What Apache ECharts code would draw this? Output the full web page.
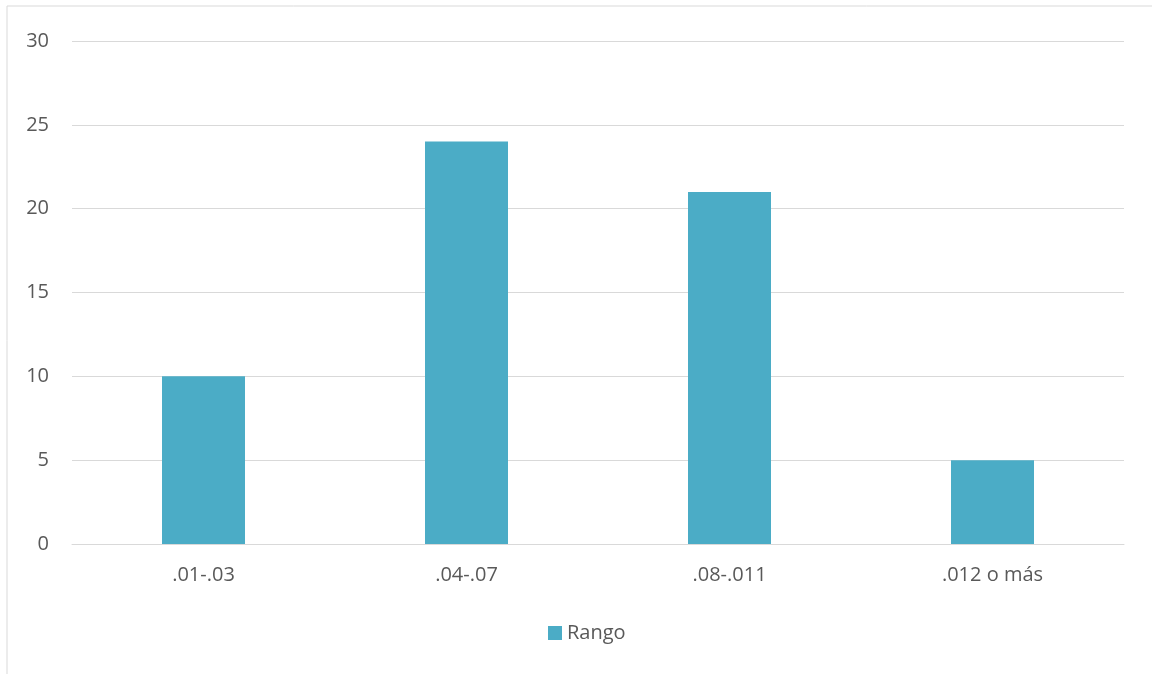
<!DOCTYPE html>
<html>
<head>
<meta charset="utf-8">
<script src="https://cdn.jsdelivr.net/npm/echarts@6/dist/echarts.min.js"></script>
<style>
  html, body { margin: 0; padding: 0; background: #fff; }
  #chart { width: 1152px; height: 674px; }
</style>
</head>
<body>
<div id="chart"></div>
<script>
// Frequency of each range
const categories = ['.01-.03', '.04-.07', '.08-.011', '.012 o más'];
const rangoValues = [10, 24, 21, 5];
const seriesName = 'Rango';

const textColor = '#595959';
const fontFamily = '"Open Sans", "Liberation Sans", Arial, sans-serif';
const fontSize = 20;

const chart = echarts.init(document.getElementById('chart'), null, { renderer: 'canvas' });
chart.setOption({
  backgroundColor: '#ffffff',
  animation: false,
  graphic: [{
    type: 'rect',
    shape: { x: 7, y: 6, width: 1170, height: 700 },
    style: { fill: 'none', stroke: '#d9d9d9', lineWidth: 1 },
    silent: true
  }],
  grid: { left: 72, right: 28, top: 41, bottom: 130, containLabel: false },
  legend: {
    data: [seriesName],
    bottom: 31,
    left: 548,
    padding: 0,
    icon: 'rect',
    itemWidth: 14,
    itemHeight: 14,
    itemGap: 5,
    textStyle: { color: textColor, fontSize: fontSize, fontFamily: fontFamily }
  },
  xAxis: {
    type: 'category',
    data: categories,
    axisLine: { show: true, lineStyle: { color: '#d9d9d9', width: 1 } },
    axisTick: { show: false },
    axisLabel: { color: textColor, fontSize: fontSize, fontFamily: fontFamily, margin: 21 }
  },
  yAxis: {
    type: 'value',
    min: 0,
    max: 30,
    interval: 5,
    axisLine: { show: false },
    axisTick: { show: false },
    splitLine: { lineStyle: { color: '#d9d9d9', width: 1 } },
    axisLabel: { color: textColor, fontSize: fontSize, fontFamily: fontFamily, margin: 23 }
  },
  series: [{
    name: seriesName,
    type: 'bar',
    data: rangoValues,
    barWidth: 83,
    itemStyle: { color: '#4BACC6' }
  }]
});
</script>
</body>
</html>
